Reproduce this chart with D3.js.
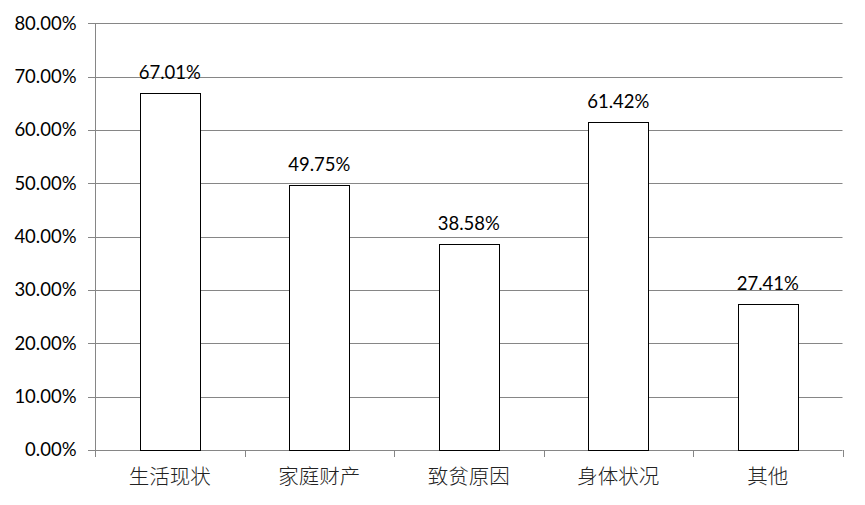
<!DOCTYPE html>
<html><head><meta charset="utf-8">
<script src="https://cdn.jsdelivr.net/npm/d3@7"></script>
<style>body{margin:0;background:#fff}</style>
</head><body>
<svg id="c" width="865" height="505"></svg>
<script>
const categories = ["生活现状","家庭财产","致贫原因","身体状况","其他"];
const values = [67.01, 49.75, 38.58, 61.42, 27.41];
const yTicks = [0,10,20,30,40,50,60,70,80];

const svg = d3.select("#c");
const m = {left:95, right:842.5, top:23.3, bottom:450};
const x = d3.scaleBand().domain(categories).range([m.left, m.right]).paddingInner(0.6).paddingOuter(0.3);
const y = d3.scaleLinear().domain([0,80]).range([m.bottom, m.top]);
const numFont = "Lato, 'Open Sans', sans-serif";

// gridlines
svg.append("g").selectAll("line").data(yTicks).join("line")
  .attr("x1", m.left - 7).attr("x2", m.right)
  .attr("y1", d=>Math.round(y(d))+0.5).attr("y2", d=>Math.round(y(d))+0.5)
  .attr("stroke", "#868686").attr("stroke-width",1);

// y axis line
svg.append("line").attr("x1", m.left+0.5).attr("x2", m.left+0.5)
  .attr("y1", m.top).attr("y2", m.bottom).attr("stroke","#868686");

// y labels
svg.append("g").selectAll("text").data(yTicks).join("text")
  .attr("x", 76.5).attr("y", d=>y(d)).attr("dy","0.35em")
  .attr("text-anchor","end").attr("font-family", numFont).attr("font-size", 18.5)
  .attr("fill","#000").text(d=>d.toFixed(2)+"%");

// x bottom ticks
const bounds = d3.range(categories.length+1).map(i => m.left + i*(m.right-m.left)/categories.length);
svg.append("g").selectAll("line").data(bounds).join("line")
  .attr("x1", d=>Math.round(d)+0.5).attr("x2", d=>Math.round(d)+0.5)
  .attr("y1", m.bottom).attr("y2", m.bottom+7).attr("stroke","#868686");

// bars
svg.append("g").selectAll("rect").data(values).join("rect")
  .attr("x", (d,i)=>Math.round(x(categories[i]))+0.5)
  .attr("y", d=>Math.round(y(d))+0.5)
  .attr("width", Math.round(x.bandwidth()))
  .attr("height", d=>Math.round(y(0))-Math.round(y(d)))
  .attr("fill","#fff").attr("stroke","#000").attr("stroke-width",1);

// value labels
svg.append("g").selectAll("text").data(values).join("text")
  .attr("x", (d,i)=>x(categories[i])+x.bandwidth()/2)
  .attr("y", d=>y(d)-14)
  .attr("text-anchor","middle").attr("font-family", numFont).attr("font-size", 18.5)
  .attr("fill","#000").text(d=>d.toFixed(2)+"%");

// category labels
svg.append("g").selectAll("text").data(categories).join("text")
  .attr("x", d=>x(d)+x.bandwidth()/2).attr("y", 484)
  .attr("text-anchor","middle").attr("font-family","'Noto Sans CJK SC', sans-serif")
  .attr("font-size", 20.5).attr("font-weight", 300).attr("fill","#222").text(d=>d);
</script>
</body></html>
